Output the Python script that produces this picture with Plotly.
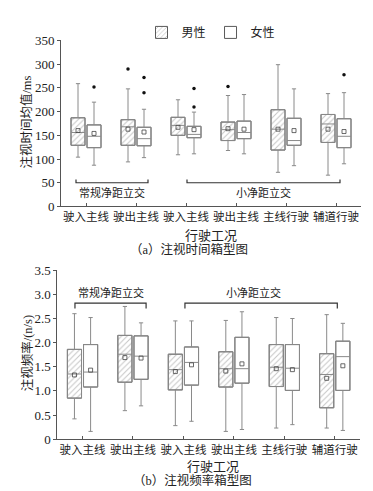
import plotly.graph_objects as go

categories = ["驶入主线", "驶出主线", "驶入主线", "驶出主线", "主线行驶", "辅道行驶"]
sexes = ["男性", "女性"]

# (a) 注视时间均值 / ms
time_m_q1 = [129, 129, 150, 139, 119, 135]
time_m_med = [156, 168, 171, 162, 163, 174]
time_m_q3 = [187, 183, 188, 178, 204, 194]
time_m_lo = [104, 94, 109, 118, 72, 66]
time_m_hi = [259, 248, 225, 234, 299, 238]
time_m_mean = [160, 163, 167, 164, 163, 163]
time_m_out_cat = [1, 3]
time_m_out_val = [290, 253]

time_f_q1 = [124, 128, 145, 143, 129, 124]
time_f_med = [148, 143, 152, 156, 139, 148]
time_f_q3 = [172, 167, 169, 180, 186, 185]
time_f_lo = [87, 103, 111, 111, 86, 90]
time_f_hi = [220, 205, 199, 236, 248, 240]
time_f_mean = [154, 157, 162, 163, 160, 158]
time_f_out_cat = [0, 1, 1, 2, 2, 5]
time_f_out_val = [252, 272, 240, 249, 210, 278]

# (b) 注视频率 / (n/s)
freq_m_q1 = [0.85, 1.18, 1.02, 1.08, 1.09, 0.65]
freq_m_med = [1.35, 1.76, 1.44, 1.46, 1.49, 1.34]
freq_m_q3 = [1.86, 2.15, 1.76, 1.81, 1.96, 1.77]
freq_m_lo = [0.42, 0.59, 0.28, 0.16, 0.23, 0.23]
freq_m_hi = [2.60, 2.75, 2.45, 2.46, 2.52, 2.58]
freq_m_mean = [1.33, 1.69, 1.40, 1.41, 1.46, 1.26]

freq_f_q1 = [1.08, 1.24, 1.12, 1.16, 1.01, 1.01]
freq_f_med = [1.39, 1.72, 1.59, 1.46, 1.47, 1.71]
freq_f_q3 = [1.96, 2.14, 1.91, 2.11, 1.96, 2.03]
freq_f_lo = [0.16, 0.69, 0.37, 0.20, 0.30, 0.18]
freq_f_hi = [2.52, 2.41, 2.45, 2.64, 2.50, 2.40]
freq_f_mean = [1.43, 1.68, 1.54, 1.56, 1.44, 1.52]

W, H = 373, 491
FONT = "Liberation Serif, 'Times New Roman', 'Noto Sans CJK SC', serif"
BOXLINE = "#5a5a5a"
WHISK = "#8a8a8a"
OFF = 0.16
BW = 0.28

fig = go.Figure()


def add_panel(xa, ya, stats_m, stats_f, out_m=None, out_f=None, legend=False):
    idx = list(range(len(categories)))
    for sex, st, off, pat in ((sexes[0], stats_m, -OFF, "/"), (sexes[1], stats_f, OFF, "")):
        q1, med, q3, lo, hi, mean = st
        xs = [i + off for i in idx]
        fig.add_trace(go.Bar(
            x=xs, y=[b - a for a, b in zip(q1, q3)], base=q1, width=BW,
            xaxis=xa, yaxis=ya, name=sex, showlegend=legend, legendgroup=sex,
            marker=dict(color="white", line=dict(color=BOXLINE, width=1),
                        pattern=dict(shape=pat, fgcolor="#8c8c8c", size=4, solidity=0.25)),
            hoverinfo="skip"))
        fig.add_trace(go.Box(
            x=xs, q1=q1, median=med, q3=q3, lowerfence=lo, upperfence=hi,
            width=BW, whiskerwidth=0.3, xaxis=xa, yaxis=ya, showlegend=False,
            fillcolor="rgba(0,0,0,0)", line=dict(color=WHISK, width=1),
            boxpoints=False, hoverinfo="skip"))
        fig.add_trace(go.Scatter(
            x=xs, y=mean, mode="markers", xaxis=xa, yaxis=ya, showlegend=False,
            marker=dict(symbol="square-open", size=4, color="#444", line=dict(width=0.8)),
            hoverinfo="skip"))
    for out, off in ((out_m, -OFF), (out_f, OFF)):
        if out:
            cats, vals = out
            fig.add_trace(go.Scatter(
                x=[c + off for c in cats], y=vals, mode="markers", xaxis=xa, yaxis=ya,
                showlegend=False, marker=dict(symbol="circle", size=3.5, color="#111"),
                hoverinfo="skip"))


add_panel("x", "y",
          (time_m_q1, time_m_med, time_m_q3, time_m_lo, time_m_hi, time_m_mean),
          (time_f_q1, time_f_med, time_f_q3, time_f_lo, time_f_hi, time_f_mean),
          (time_m_out_cat, time_m_out_val), (time_f_out_cat, time_f_out_val), legend=True)
add_panel("x2", "y2",
          (freq_m_q1, freq_m_med, freq_m_q3, freq_m_lo, freq_m_hi, freq_m_mean),
          (freq_f_q1, freq_f_med, freq_f_q3, freq_f_lo, freq_f_hi, freq_f_mean))

axis_common = dict(showgrid=False, zeroline=False, showline=True, linecolor="#555",
                   linewidth=1, tickfont=dict(family=FONT, size=13, color="#222"))
xcommon = dict(axis_common, tickmode="array", tickvals=list(range(6)), ticktext=categories,
               range=[-0.5, 5.5], ticks="inside", ticklen=3, tickcolor="#555", tickangle=0,
               tickfont=dict(family=FONT, size=11.5, color="#222"))


def py(px):
    return 1 - px / H


def pxx(px):
    return px / W


fig.update_layout(
    width=W, height=H, margin=dict(l=0, r=0, t=0, b=0),
    paper_bgcolor="white", plot_bgcolor="white", barmode="overlay", boxmode="overlay",
    font=dict(family=FONT, color="#222"),
    xaxis=dict(xcommon, domain=[pxx(53), pxx(353)], anchor="y"),
    yaxis=dict(axis_common, domain=[py(197.5), py(26.3)], range=[0, 350], anchor="x",
               tickvals=[0, 50, 100, 150, 200, 250, 300, 350], ticks="outside", ticklen=3,
               tickcolor="#555"),
    xaxis2=dict(xcommon, domain=[pxx(49.3), pxx(352)], anchor="y2"),
    yaxis2=dict(axis_common, domain=[py(437.5), py(263.3)], range=[0, 3.5], anchor="x2",
                tickvals=[0, 0.5, 1, 1.5, 2, 2.5, 3, 3.5],
                ticktext=["0", "0.5", "1.0", "1.5", "2.0", "2.5", "3.0", "3.5"],
                ticks="outside", ticklen=3, tickcolor="#555"),
    legend=dict(orientation="h", x=pxx(203), xanchor="center", y=py(3), yanchor="top",
                font=dict(family=FONT, size=12, color="#222"), itemwidth=30,
                traceorder="normal", bgcolor="rgba(0,0,0,0)", tracegroupgap=0),
)

# brackets
shapes = []
def bracket(xr, yr, x0, x1, yline, yend):
    shapes.append(dict(type="path", xref=xr, yref=yr,
                       path=f"M {x0},{yend} L {x0},{yline} L {x1},{yline} L {x1},{yend}",
                       line=dict(color="#333", width=1.2)))

bracket("x", "y", -0.2, 1.24, 50, 57)
bracket("x", "y", 2.02, 5.08, 50, 57)
bracket("x2", "y2", -0.15, 1.26, 2.82, 2.71)
bracket("x2", "y2", 2.03, 5.05, 2.82, 2.71)
fig.update_layout(shapes=shapes)

ann = []
def text(s, xr, yr, x, y, size, angle=0):
    ann.append(dict(text=s, xref=xr, yref=yr, x=x, y=y, showarrow=False,
                    xanchor="center", yanchor="middle", textangle=angle,
                    font=dict(family=FONT, size=size, color="#222")))

text("常规净距立交", "x", "y", 0.52, 30, 11)
text("小净距立交", "x", "y", 3.55, 30, 11)
text("常规净距立交", "x2", "y2", 0.56, 3.04, 11)
text("小净距立交", "x2", "y2", 3.38, 3.04, 11)
text("行驶工况", "paper", "paper", pxx(203), py(227), 13)
text("行驶工况", "paper", "paper", pxx(205), py(466), 13)
text("（a）注视时间箱型图", "paper", "paper", pxx(181), py(242), 12.5)
text("（b）注视频率箱型图", "paper", "paper", pxx(184), py(480), 12.5)
text("注视时间均值/ms", "paper", "paper", pxx(19), py(111), 12.5, -90)
text("注视频率/(n/s)", "paper", "paper", pxx(19), py(349), 12.5, -90)
fig.update_layout(annotations=ann)

fig.write_html("out.html")
